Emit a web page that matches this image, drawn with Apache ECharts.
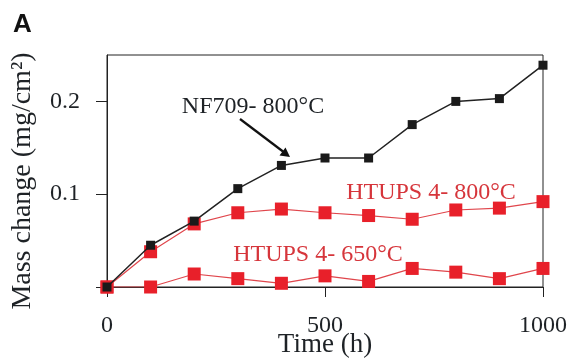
<!DOCTYPE html>
<html>
<head>
<meta charset="utf-8">
<script src="https://cdn.jsdelivr.net/npm/echarts@6/dist/echarts.min.js"></script>
<style>
html,body{margin:0;padding:0;background:#fff;}
#chart{width:568px;height:362px;}
</style>
</head>
<body>
<div id="chart"></div>
<script>
// Data
const timeHours = [0, 100, 200, 300, 400, 500, 600, 700, 800, 900, 1000];
const nf709_800 = [0, 0.045, 0.071, 0.106, 0.131, 0.139, 0.139, 0.175, 0.200, 0.203, 0.239];
const htups4_800 = [0, 0.038, 0.068, 0.080, 0.084, 0.080, 0.077, 0.073, 0.083, 0.085, 0.092];
const htups4_650 = [0, 0, 0.014, 0.009, 0.004, 0.012, 0.006, 0.020, 0.016, 0.009, 0.020];
const xTicks = [0, 500, 1000];
const yTicks = [0, 0.1, 0.2];
const yTickLabels = [0.1, 0.2];

const serif = '"Liberation Serif", "DejaVu Serif", serif';
const txt = '#1e2226';
const red = '#e8202a';
const redLine = '#e0464c';
const redText = '#d6353b';

function pairs(xs, ys){ return xs.map((x,i)=>[x, ys[i]]); }

const chart = echarts.init(document.getElementById('chart'), null, {renderer:'canvas'});
chart.setOption({
  animation: false,
  backgroundColor: '#fff',
  grid: {left: 107, right: 25, top: 55, bottom: 75, containLabel: false, outerBoundsMode: 'none',
    show: true, borderColor: '#222', borderWidth: 1, backgroundColor: 'transparent'},
  xAxis: {
    type: 'value', min: 0, max: 1000, interval: 500,
    axisLine: {show: true, onZero: false, lineStyle: {color: '#222', width: 1}},
    axisTick: {show: true, inside: false, length: 10, customValues: xTicks, lineStyle: {color: '#222', width: 1}},
    axisLabel: {margin: 27, fontFamily: serif, fontSize: 24, color: txt, customValues: xTicks,
      formatter: v => String(v)},
    splitLine: {show: false}
  },
  yAxis: {
    type: 'value', min: 0, max: 0.25,
    axisLine: {show: true, onZero: false, lineStyle: {color: '#222', width: 1}},
    axisTick: {show: true, inside: false, length: 11, customValues: yTicks, lineStyle: {color: '#222', width: 1}},
    axisLabel: {margin: 27, fontFamily: serif, fontSize: 24, color: txt, customValues: yTickLabels,
      formatter: v => String(v)},
    splitLine: {show: false}
  },
  series: [
    {
      name: 'HTUPS 4- 650°C', type: 'line', data: pairs(timeHours, htups4_650),
      symbol: 'rect', symbolSize: 13, itemStyle: {color: red},
      lineStyle: {color: redLine, width: 1.2}, z: 2
    },
    {
      name: 'HTUPS 4- 800°C', type: 'line', data: pairs(timeHours, htups4_800),
      symbol: 'rect', symbolSize: 13, itemStyle: {color: red},
      lineStyle: {color: redLine, width: 1.2}, z: 3
    },
    {
      name: 'NF709- 800°C', type: 'line', data: pairs(timeHours, nf709_800),
      symbol: 'rect', symbolSize: 9, itemStyle: {color: '#1a1a1a'},
      lineStyle: {color: '#222', width: 1.5}, z: 4
    }
  ],
  graphic: [
    {type: 'text', left: 13, top: 12, style: {text: 'A', font: 'bold 26px "Liberation Sans", Arial, sans-serif', fill: '#111'}},
    {type: 'text', x: 23, y: 181, rotation: Math.PI / 2,
      style: {text: 'Mass change (mg/cm²)', font: '28px ' + serif, fill: txt, align: 'center', verticalAlign: 'middle'}},
    {type: 'text', x: 325, y: 345,
      style: {text: 'Time (h)', font: '27px ' + serif, fill: txt, align: 'center', verticalAlign: 'middle'}},
    {type: 'text', x: 253, y: 107, style: {text: 'NF709- 800°C', font: '24px ' + serif, fill: txt, align: 'center', verticalAlign: 'middle'}, z: 10},
    {type: 'line', shape: {x1: 240, y1: 119, x2: 283, y2: 151.5}, style: {stroke: '#111', lineWidth: 2.2}, z: 10},
    {type: 'polygon', shape: {points: [[290, 157], [279.5, 155.5], [285.5, 147.5]]}, style: {fill: '#111'}, z: 10},
    {type: 'text', x: 431, y: 193, style: {text: 'HTUPS 4- 800°C', font: '24px ' + serif, fill: redText, align: 'center', verticalAlign: 'middle'}, z: 1},
    {type: 'text', x: 318, y: 255, style: {text: 'HTUPS 4- 650°C', font: '24px ' + serif, fill: redText, align: 'center', verticalAlign: 'middle'}, z: 1}
  ]
});
</script>
</body>
</html>
